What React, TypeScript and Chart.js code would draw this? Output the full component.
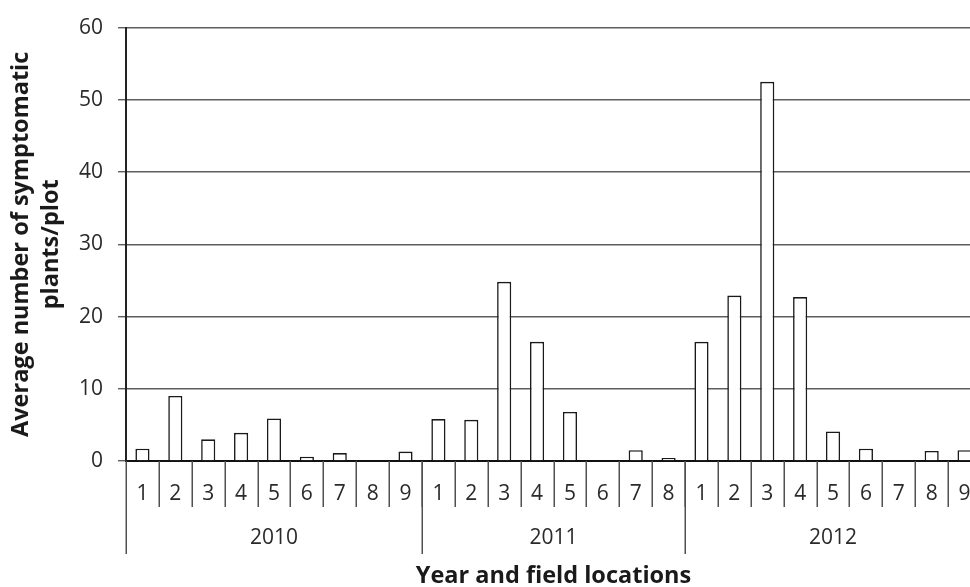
import React, { useEffect, useRef } from "react";
import { Chart, registerables } from "chart.js";

Chart.register(...registerables);

const years = ["2010", "2011", "2012"];
const locations2010 = ["1", "2", "3", "4", "5", "6", "7", "8", "9"];
const locations2011 = ["1", "2", "3", "4", "5", "6", "7", "8"];
const locations2012 = ["1", "2", "3", "4", "5", "6", "7", "8", "9"];

const values2010 = [1.7, 9.0, 3.0, 3.9, 5.9, 0.6, 1.1, 0, 1.3];
const values2011 = [5.8, 5.7, 24.8, 16.5, 6.8, 0, 1.5, 0.4];
const values2012 = [16.5, 22.9, 52.5, 22.7, 4.1, 1.7, 0, 1.4, 1.5];

const yTicks = [0, 10, 20, 30, 40, 50, 60];

const yTitle = ["Average number of symptomatic", "plants/plot"];
const xTitle = "Year and field locations";

const FONT = "'Open Sans', 'DejaVu Sans', sans-serif";

export default function App() {
  const ref = useRef<HTMLCanvasElement | null>(null);

  useEffect(() => {
    const canvas = ref.current;
    if (!canvas) return;

    const groups = [locations2010, locations2011, locations2012];
    const labels = [...locations2010, ...locations2011, ...locations2012];
    const values = [...values2010, ...values2011, ...values2012];

    const multiLevel = {
      id: "multiLevel",
      afterDraw(chart: any) {
        const ctx = chart.ctx;
        const xs = chart.scales.x;
        const area = chart.chartArea;
        const half = (xs.getPixelForValue(1) - xs.getPixelForValue(0)) / 2;
        const base = area.bottom;
        ctx.save();
        // field numbers
        ctx.fillStyle = "#2a2a2a";
        ctx.font = `21px ${FONT}`;
        ctx.textAlign = "center";
        ctx.textBaseline = "middle";
        labels.forEach((lab, i) => {
          ctx.fillText(lab, xs.getPixelForValue(i), base + 33);
        });
        // short separators
        ctx.strokeStyle = "#505050";
        ctx.lineWidth = 1.5;
        labels.forEach((_, i) => {
          const x = Math.round(xs.getPixelForValue(i) + half) + 0.25;
          ctx.beginPath();
          ctx.moveTo(x, base);
          ctx.lineTo(x, base + 46);
          ctx.stroke();
        });
        // groups
        let start = 0;
        groups.forEach((g, gi) => {
          const left = xs.getPixelForValue(start) - half;
          const right = xs.getPixelForValue(start + g.length - 1) + half;
          const lx = Math.round(left) + 0.25;
          ctx.beginPath();
          ctx.moveTo(lx, base);
          ctx.lineTo(lx, base + 93);
          ctx.stroke();
          ctx.fillText(years[gi], (left + right) / 2, base + 77);
          start += g.length;
        });
        const endX = Math.round(xs.getPixelForValue(start - 1) + half) + 0.25;
        ctx.beginPath();
        ctx.moveTo(endX, base);
        ctx.lineTo(endX, base + 93);
        ctx.stroke();
        // x title
        ctx.fillStyle = "#1a1a1a";
        ctx.font = `bold 23.5px ${FONT}`;
        ctx.fillText(xTitle, (area.left + area.right) / 2, base + 115);
        // y title
        const cy = (area.top + area.bottom) / 2;
        const lineX = [21.5, 51];
        yTitle.forEach((t, i) => {
          ctx.save();
          ctx.translate(lineX[i], cy);
          ctx.rotate(-Math.PI / 2);
          ctx.fillText(t, 0, 0);
          ctx.restore();
        });
        ctx.restore();
      },
    };

    const chart = new Chart(canvas, {
      type: "bar",
      data: {
        labels: labels.map((l, i) => `${i}`),
        datasets: [
          {
            data: values,
            backgroundColor: "#ffffff",
            borderColor: "#1a1a1a",
            borderWidth: 1.6,
            barPercentage: 0.43,
            categoryPercentage: 1,
          },
        ],
      },
      options: {
        responsive: false,
        animation: false,
        devicePixelRatio: 1,
        layout: { padding: { top: 22.5, right: 9, left: 0, bottom: 0 } },
        plugins: { legend: { display: false }, tooltip: { enabled: false }, title: { display: false } },
        scales: {
          x: {
            type: "category",
            grid: { display: false, drawTicks: false },
            border: { display: true, color: "#111", width: 2 },
            ticks: { display: false },
            afterFit(scale: any) {
              scale.height = 126;
            },
          },
          y: {
            min: 0,
            max: 60,
            afterBuildTicks(scale: any) {
              scale.ticks = yTicks.map((v) => ({ value: v }));
            },
            grid: { color: "#5e5e5e", lineWidth: 1.4, tickLength: 8, drawTicks: true },
            border: { display: true, color: "#222", width: 2 },
            ticks: {
              color: "#2a2a2a",
              font: { family: FONT, size: 21 },
              padding: 15,
            },
            afterFit(scale: any) {
              scale.width = 126;
            },
          },
        },
      },
      plugins: [multiLevel],
    });

    return () => chart.destroy();
  }, []);

  return (
    <div
      style={{
        position: "fixed",
        left: 0,
        top: 0,
        width: 970,
        height: 587,
        overflow: "hidden",
        background: "#fff",
      }}
    >
      <canvas ref={ref} width={990} height={587} style={{ display: "block" }} />
    </div>
  );
}
